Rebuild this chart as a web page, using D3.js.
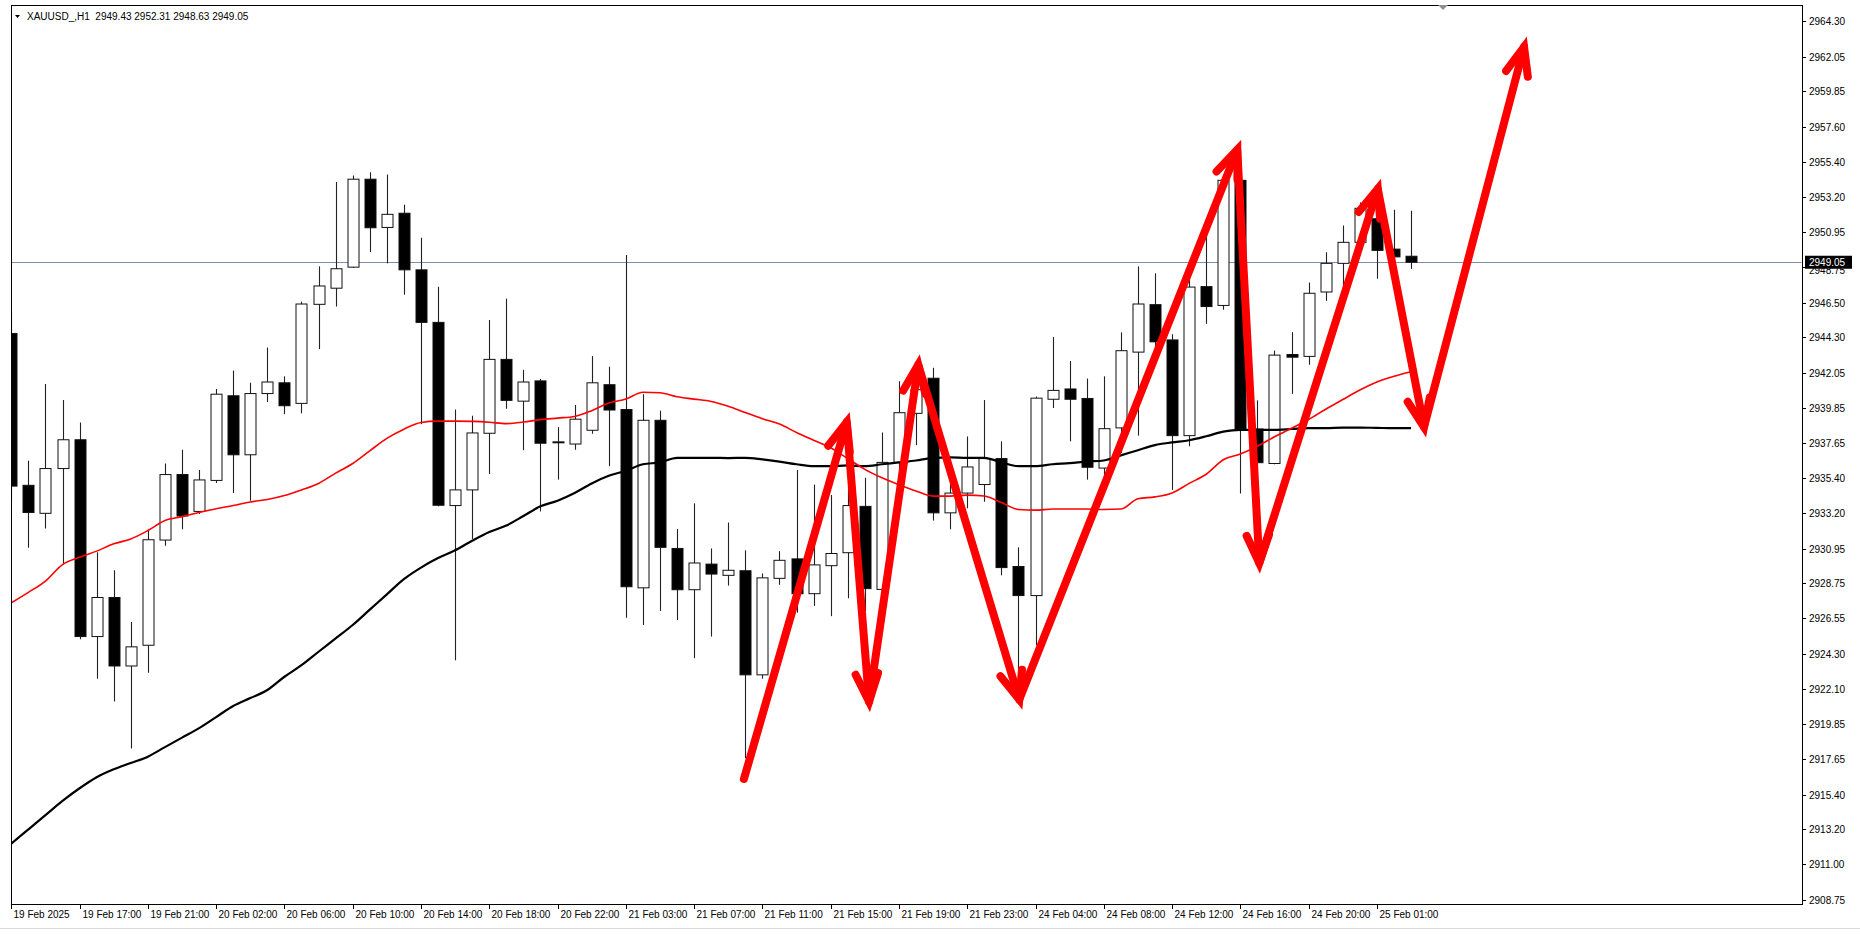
<!DOCTYPE html>
<html><head><meta charset="utf-8">
<script src="https://cdn.jsdelivr.net/npm/d3@7/dist/d3.min.js"></script>
<style>html,body{margin:0;padding:0;background:#fff;}svg{display:block;}</style>
</head><body>
<svg id="chart" width="1860" height="934"></svg>
<script>
// ---- data ----
const symbolTitle = "XAUUSD_,H1  2949.43 2952.31 2948.63 2949.05";
const opens  = [2944.55,2934.95,2933.18,2936.01,2937.83,2925.39,2927.86,2923.53,2924.84,2931.49,2935.63,2933.30,2935.26,2940.61,2936.88,2940.75,2941.43,2940.13,2946.39,2947.41,2948.74,2954.30,2951.25,2952.15,2948.57,2945.25,2933.67,2934.66,2938.24,2942.91,2940.27,2941.55,2937.66,2937.56,2938.43,2941.31,2939.74,2928.47,2939.06,2930.96,2928.35,2929.97,2929.26,2929.55,2922.97,2929.07,2930.30,2928.10,2929.87,2930.69,2933.62,2928.37,2936.40,2939.50,2941.72,2933.21,2934.46,2935.00,2936.64,2929.82,2927.98,2940.39,2941.04,2940.44,2936.04,2938.58,2943.37,2946.37,2944.14,2938.09,2947.51,2946.32,2954.23,2938.51,2936.33,2943.22,2943.10,2947.17,2948.98,2950.31,2951.80,2949.88,2949.43];
const highs  = [2945.88,2936.50,2941.36,2940.34,2938.92,2930.72,2929.58,2926.31,2932.17,2936.33,2937.20,2935.92,2941.04,2942.21,2941.43,2943.66,2941.84,2946.56,2948.79,2954.13,2954.54,2954.74,2954.59,2952.68,2950.60,2947.50,2939.74,2939.35,2945.40,2946.75,2942.25,2941.67,2938.63,2940.03,2943.12,2942.45,2949.51,2940.71,2939.67,2932.19,2933.81,2930.96,2932.60,2930.84,2929.38,2930.79,2935.92,2935.00,2934.34,2934.83,2935.43,2938.29,2941.53,2941.80,2942.38,2935.43,2938.04,2940.34,2937.73,2931.03,2940.56,2944.33,2942.81,2941.70,2941.84,2944.62,2948.79,2948.35,2944.50,2948.00,2951.00,2954.40,2954.50,2940.32,2943.47,2944.63,2947.77,2949.68,2951.38,2952.83,2952.30,2952.37,2952.31];
const lows   = [2934.03,2931.01,2932.22,2929.99,2925.22,2922.73,2921.28,2918.31,2923.10,2931.13,2932.17,2933.13,2935.10,2934.47,2933.98,2940.22,2939.45,2939.50,2943.56,2946.25,2948.69,2949.70,2948.98,2947.00,2938.82,2933.62,2923.89,2931.56,2935.67,2939.79,2937.17,2933.30,2935.31,2937.20,2938.21,2936.16,2926.58,2926.12,2927.01,2926.43,2924.02,2925.39,2928.61,2917.70,2922.73,2928.66,2926.90,2927.33,2926.68,2927.81,2927.00,2927.80,2935.50,2937.49,2932.72,2932.17,2933.50,2933.91,2929.26,2921.28,2924.84,2939.84,2937.73,2935.31,2935.40,2937.00,2938.09,2942.90,2934.66,2937.42,2945.16,2946.05,2934.44,2935.50,2936.28,2940.73,2942.57,2946.61,2947.41,2949.80,2948.01,2949.20,2948.63];
const closes = [2934.90,2933.23,2936.01,2937.83,2925.39,2927.86,2923.53,2924.74,2931.51,2935.63,2933.01,2935.29,2940.71,2936.88,2940.75,2941.48,2939.98,2946.41,2947.55,2948.64,2954.30,2951.23,2952.08,2948.57,2945.25,2933.69,2934.66,2938.26,2942.91,2940.32,2941.48,2937.61,2937.70,2939.13,2941.43,2939.71,2928.54,2939.06,2931.03,2928.35,2930.04,2929.34,2929.58,2922.97,2929.10,2930.21,2928.10,2929.92,2930.64,2933.67,2928.42,2936.40,2939.54,2941.00,2933.21,2934.46,2936.11,2936.64,2929.75,2927.98,2940.46,2940.95,2940.39,2936.09,2938.53,2943.46,2946.41,2944.02,2938.09,2947.48,2946.25,2954.23,2938.51,2936.38,2943.18,2943.05,2947.09,2948.98,2950.31,2952.46,2949.80,2949.39,2949.05];
const maRed  = [2927.52,2928.18,2928.90,2929.94,2930.40,2930.79,2931.25,2931.56,2932.09,2932.72,2932.97,2933.23,2933.47,2933.67,2933.90,2934.05,2934.30,2934.66,2935.07,2935.72,2936.33,2937.13,2937.92,2938.50,2938.92,2939.01,2939.01,2938.99,2938.94,2938.85,2938.95,2939.10,2939.20,2939.30,2939.67,2940.15,2940.40,2940.83,2940.80,2940.55,2940.40,2940.25,2939.95,2939.55,2939.16,2938.82,2938.29,2937.80,2937.32,2936.64,2935.96,2935.43,2934.99,2934.59,2934.27,2934.27,2934.33,2934.27,2933.86,2933.42,2933.38,2933.45,2933.45,2933.45,2933.42,2933.45,2934.10,2934.22,2934.47,2935.07,2935.65,2936.57,2936.93,2937.42,2938.02,2938.56,2939.11,2939.76,2940.37,2940.97,2941.48,2941.84,2942.13];
const maBlack= [2912.3,2913.2,2914.1,2915.0,2915.8,2916.5,2917.0,2917.4,2917.8,2918.4,2919.0,2919.6,2920.3,2921.0,2921.5,2922.01,2922.85,2923.58,2924.43,2925.27,2926.12,2927.09,2928.06,2929.02,2929.75,2930.35,2930.84,2931.45,2932.00,2932.41,2933.01,2933.62,2933.98,2934.47,2935.07,2935.55,2935.87,2936.28,2936.40,2936.69,2936.69,2936.69,2936.67,2936.69,2936.59,2936.45,2936.28,2936.16,2936.16,2936.21,2936.16,2936.28,2936.40,2936.52,2936.69,2936.72,2936.69,2936.69,2936.40,2936.16,2936.16,2936.28,2936.35,2936.45,2936.52,2936.84,2937.17,2937.49,2937.66,2937.80,2938.05,2938.34,2938.46,2938.46,2938.46,2938.51,2938.56,2938.56,2938.60,2938.60,2938.58,2938.56,2938.56];
const timeLabels = ["19 Feb 2025","19 Feb 17:00","19 Feb 21:00","20 Feb 02:00","20 Feb 06:00","20 Feb 10:00","20 Feb 14:00","20 Feb 18:00","20 Feb 22:00","21 Feb 03:00","21 Feb 07:00","21 Feb 11:00","21 Feb 15:00","21 Feb 19:00","21 Feb 23:00","24 Feb 04:00","24 Feb 08:00","24 Feb 12:00","24 Feb 16:00","24 Feb 20:00","25 Feb 01:00"];
const labelStep = 4;
const priceLabels = ["2964.30","2962.05","2959.85","2957.60","2955.40","2953.20","2950.95","2948.75","2946.50","2944.30","2942.05","2939.85","2937.65","2935.40","2933.20","2930.95","2928.75","2926.55","2924.30","2922.10","2919.85","2917.65","2915.40","2913.20","2911.00","2908.75"];
const bidPrice = 2949.05;
// hand-drawn arrow path: [bar index, price]
const arrowPoints = [[42.92,2916.39],[48.94,2938.94],[50.25,2921.28],[53.13,2942.57],[59.05,2921.41],[71.82,2956.16],[73.11,2930.04],[80.05,2953.69],[82.76,2938.64],[88.62,2962.66]];

// ---- layout ----
const L = 11, R = 1802, T = 5, B = 904;
const svg = d3.select("#chart");
svg.append("rect").attr("width",1860).attr("height",934).attr("fill","#fff");

const x = d3.scaleLinear().domain([0, 82]).range([11.3, 11.3 + 82*17.07]);
const y = d3.scaleLinear().domain([2908.485, 2965.311]).range([B, T]);

const font = "'Liberation Sans', Arial, sans-serif";

svg.append("defs").append("clipPath").attr("id","plotclip")
  .append("rect").attr("x",L+0.5).attr("y",T+0.5).attr("width",R-L-1).attr("height",B-T-1);

const plot = svg.append("g").attr("clip-path","url(#plotclip)");

// bid line
plot.append("line").attr("x1",L).attr("x2",R)
  .attr("y1",Math.round(y(bidPrice))+0.5).attr("y2",Math.round(y(bidPrice))+0.5)
  .attr("stroke","#7d8ea6").attr("stroke-width",1);

// candles
const idx = d3.range(opens.length);
const cg = plot.append("g");
idx.forEach(i=>{
  const cx = Math.round(x(i)) + 0.5;
  const o = opens[i], c = closes[i];
  cg.append("line").attr("x1",cx).attr("x2",cx)
    .attr("y1",y(highs[i])).attr("y2",y(lows[i]))
    .attr("stroke","#222").attr("stroke-width",1.1);
  const top = y(Math.max(o,c)), bot = y(Math.min(o,c));
  const bull = c >= o;
  cg.append("rect").attr("x",cx-5.5).attr("width",11)
    .attr("y",top).attr("height",Math.max(1,bot-top))
    .attr("fill", bull ? "#fff" : "#000")
    .attr("stroke","#111").attr("stroke-width",1);
});

// moving averages
const lineGen = d3.line().x((d,i)=>x(i)).y(d=>y(d)).curve(d3.curveMonotoneX);
plot.append("path").attr("d",lineGen(maBlack)).attr("fill","none")
  .attr("stroke","#000").attr("stroke-width",2.2);
plot.append("path").attr("d",lineGen(maRed)).attr("fill","none")
  .attr("stroke","#ff0000").attr("stroke-width",1.6);

// border
svg.append("rect").attr("x",L+0.5).attr("y",T+0.5).attr("width",R-L).attr("height",B-T)
  .attr("fill","none").attr("stroke","#000").attr("stroke-width",1);

// y axis labels (the one under the bid box is drawn first and partly hidden, as in the original)
const yAxisG = svg.append("g");
priceLabels.forEach(s=>{
  const yy = Math.round(y(+s)) + 0.5;
  yAxisG.append("line").attr("x1",R).attr("x2",R+4).attr("y1",yy).attr("y2",yy).attr("stroke","#000");
  const hidden = Math.abs(+s - bidPrice) < 0.8;
  yAxisG.append("text").attr("x",R+7).attr("y",hidden ? yy+6.5 : yy+3.5).text(s)
    .attr("font-family",font).attr("font-size",10).attr("fill","#000");
});
// bid price box
const by = y(bidPrice);
svg.append("rect").attr("x",R+3).attr("y",by-6.5).attr("width",47).attr("height",13).attr("fill","#000");
svg.append("text").attr("x",R+7).attr("y",by+4).text(bidPrice.toFixed(2))
  .attr("font-family",font).attr("font-size",10).attr("fill","#fff");

// x axis labels
const xAxisG = svg.append("g");
timeLabels.forEach((s,k)=>{
  const xx = Math.round(x(k*labelStep)) + 0.5;
  xAxisG.append("line").attr("x1",xx).attr("x2",xx).attr("y1",B).attr("y2",B+5).attr("stroke","#000");
  xAxisG.append("text").attr("x",xx+2).attr("y",B+14).text(s)
    .attr("font-family",font).attr("font-size",10).attr("fill","#000");
});

// window bottom line
svg.append("line").attr("x1",0).attr("x2",1860).attr("y1",928.5).attr("y2",928.5).attr("stroke","#d9d9d9");

// title
svg.append("path").attr("d","M15,15 L20,15 L17.5,18 Z").attr("fill","#000");
svg.append("text").attr("x",27).attr("y",20).text(symbolTitle)
  .attr("font-family",font).attr("font-size",10).attr("fill","#000").style("white-space","pre");

// chart shift marker
svg.append("path").attr("d","M1438,5 L1448,5 L1443,10 Z").attr("fill","#909090");

// red annotation arrows
const ag = svg.append("g").attr("clip-path","url(#plotclip)");
const pts = arrowPoints.map(p=>[x(p[0]), y(p[1])]);
ag.append("path").attr("d", d3.line()(pts)).attr("fill","none")
  .attr("stroke","#ff0000").attr("stroke-width",8).attr("stroke-linejoin","round").attr("stroke-linecap","round");
for (let k=1;k<pts.length;k++){
  const [x0,y0] = pts[k-1], [x1,y1] = pts[k];
  const ang = Math.atan2(y0-y1, x0-x1);
  const len = 30, da = 22*Math.PI/180;
  const b1 = [x1 + len*Math.cos(ang+da), y1 + len*Math.sin(ang+da)];
  const b2 = [x1 + len*Math.cos(ang-da), y1 + len*Math.sin(ang-da)];
  ag.append("path").attr("d", d3.line()([b1,[x1,y1],b2])).attr("fill","none")
    .attr("stroke","#ff0000").attr("stroke-width",8).attr("stroke-linejoin","miter").attr("stroke-linecap","round");
}
</script>
</body></html>
